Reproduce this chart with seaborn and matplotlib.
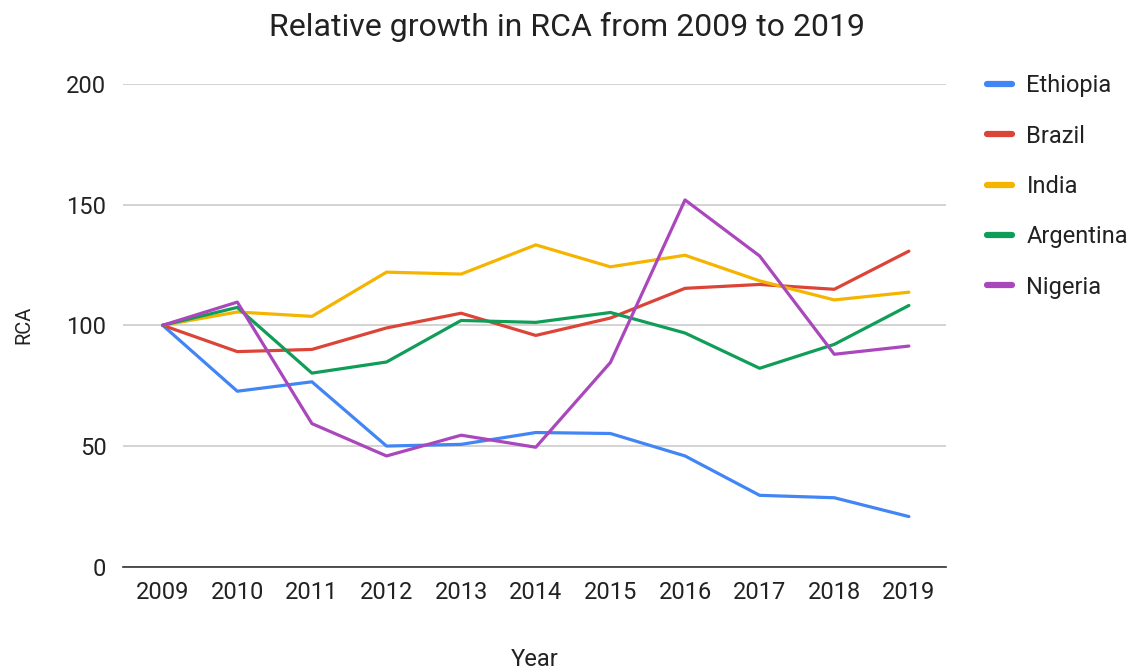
import matplotlib
matplotlib.use("Agg")
import matplotlib.pyplot as plt
import seaborn as sns
import pandas as pd
from matplotlib.lines import Line2D

# Relative RCA index, 2009 = 100
years = [2009, 2010, 2011, 2012, 2013, 2014, 2015, 2016, 2017, 2018, 2019]
ethiopia = [100, 72.7, 76.6, 50.0, 50.7, 55.6, 55.2, 45.9, 29.6, 28.6, 20.8]
brazil = [100, 89.1, 90.0, 98.9, 105.0, 95.8, 103.0, 115.3, 116.9, 114.9, 130.7]
india = [100, 105.5, 103.7, 122.0, 121.2, 133.3, 124.2, 129.0, 118.4, 110.5, 113.7]
argentina = [100, 107.4, 80.2, 84.8, 102.0, 101.2, 105.3, 96.8, 82.2, 92.1, 108.2]
nigeria = [100, 109.6, 59.3, 45.9, 54.5, 49.5, 84.6, 151.9, 128.7, 88.0, 91.4]

countries = ["Ethiopia", "Brazil", "India", "Argentina", "Nigeria"]
series = [ethiopia, brazil, india, argentina, nigeria]
colors = ["#4285F4", "#DB4437", "#F4B400", "#0F9D58", "#AB47BC"]

df = pd.DataFrame(
    [(y, c, v) for c, vals in zip(countries, series) for y, v in zip(years, vals)],
    columns=["Year", "Country", "RCA"],
)

sns.set_theme(style="white")
plt.rcParams["font.family"] = ["Roboto", "DejaVu Sans"]
text_color = "#222222"

fig = plt.figure(figsize=(11.4, 6.7), dpi=100)
ax = fig.add_axes([0.108, 0.154, 0.722, 0.721])

sns.lineplot(
    data=df, x="Year", y="RCA", hue="Country", hue_order=countries,
    palette=colors, linewidth=2.3, ax=ax, legend=False,
)

ax.set_xlim(2008.47, 2019.5)
ax.set_ylim(0, 200)
ax.set_yticks([0, 50, 100, 150, 200])
ax.set_xticks(years)
ax.set_xticklabels([str(y) for y in years])
ax.yaxis.grid(True, color="#cccccc", linewidth=1.2)
ax.xaxis.grid(False)
for side in ["top", "right", "left"]:
    ax.spines[side].set_visible(False)
ax.spines["bottom"].set_color("#333333")
ax.spines["bottom"].set_linewidth(1.2)
ax.spines["bottom"].set_zorder(5)
ax.tick_params(axis="both", length=0, labelsize=17, colors=text_color)
ax.tick_params(axis="y", pad=12)
ax.tick_params(axis="x", pad=10)

ax.set_xlabel("Year", fontsize=17, color=text_color, labelpad=32)
ax.set_ylabel("RCA", fontsize=14.5, color=text_color, labelpad=24)
fig.suptitle("Relative growth in RCA from 2009 to 2019", x=0.497, y=0.982,
             fontsize=23, color=text_color)

handles = [Line2D([0], [0], color=c, linewidth=4.5) for c in colors]
leg = fig.legend(
    handles, countries, loc="upper left", bbox_to_anchor=(0.847, 0.921),
    frameon=False, fontsize=17, handlelength=1.05, handletextpad=0.63,
    labelspacing=1.16, labelcolor=text_color,
)

fig.savefig("out.png", dpi=100)
